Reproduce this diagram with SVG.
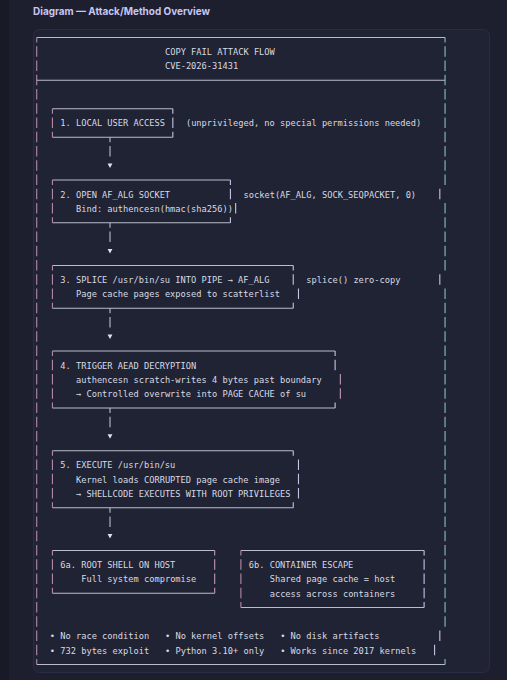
<svg xmlns="http://www.w3.org/2000/svg" width="507" height="680" viewBox="0 0 507 680">
<style>
.t{font-family:"DejaVu Sans Mono","Liberation Mono",monospace;font-size:8.7px;fill:#d8dae2}
.h{stroke:#b9bdca;stroke-width:1;fill:none}
.ol{stroke:#b48aab;stroke-width:1.1;fill:none}
.or{stroke:#86c0c0;stroke-width:1.1;fill:none}
.vl{stroke:#b48aab;stroke-width:1.1;fill:none}
.vr{stroke:#c7c3e6;stroke-width:1.1;fill:none}
.vp{stroke:#c496b8;stroke-width:1.1;fill:none}
.d{stroke-dasharray:10.5 3.75}
.s{stroke-dashoffset:5.5}
.c{stroke:#b9bdca;stroke-width:1.1;fill:none}
.a{fill:#e0e2ea}
</style>
<defs>
<polygon id="tri" points="-2.4,-2.2 2.4,-2.2 0,2.2"/>
</defs>
<rect width="507" height="680" fill="#1d1f2e"/>
<rect width="9" height="680" fill="#181a25"/>
<rect x="33.5" y="29.5" width="456" height="643" rx="6" fill="#202334" stroke="#2a2d43"/>
<text x="33" y="15" font-family="Inter,Roboto,sans-serif" font-weight="bold" font-size="10.5" fill="#c8c6f2" textLength="177" lengthAdjust="spacingAndGlyphs">Diagram — Attack/Method Overview</text>

<g id="frame">
<path class="h" d="M36.72,37.5H445.05M36.72,80.25H445.05M36.72,664.5H445.05"/>
<line class="ol d s" x1="36.72" y1="37.5" x2="36.72" y2="664.5"/>
<line class="or d s" x1="445.05" y1="37.5" x2="445.05" y2="185"/>
<line class="or d" x1="445.05" y1="203" x2="445.05" y2="270.5"/>
<line class="or d" x1="445.05" y1="288.5" x2="445.05" y2="626.75"/>
<path class="or" d="M445.05,659V664.5"/>
<path class="vr" d="M439.82,188.75V199.25M439.82,274.25V284.75M439.82,630.5V641M434.58,644.75V655.25"/>
</g>

<g id="header">
<text class="t" x="164.98" y="55.05">COPY FAIL ATTACK FLOW</text>
<text class="t" x="164.98" y="69.3">CVE-2026-31431</text>
</g>

<g id="connectors">
<path class="c" d="M110.01,137.25V142.25M110.01,146V156.5"/>
<use href="#tri" class="a" x="110.01" y="165.75"/>
<path class="c" d="M110.01,222.75V227.75M110.01,231.5V242"/>
<use href="#tri" class="a" x="110.01" y="251.25"/>
<path class="c" d="M110.01,308.25V313.25M110.01,317V327.5"/>
<use href="#tri" class="a" x="110.01" y="336.75"/>
<path class="c" d="M110.01,408V413M110.01,416.75V427.25"/>
<use href="#tri" class="a" x="110.01" y="436.5"/>
<path class="c" d="M110.01,507.75V512.75M110.01,516.5V527"/>
<use href="#tri" class="a" x="110.01" y="536.25"/>
</g>

<g id="node-1">
<path class="h" d="M52.43,108.75H172.83M52.43,137.25H172.83"/>
<line class="vl d s" x1="52.43" y1="108.75" x2="52.43" y2="137.25"/>
<line class="vr d s" x1="172.83" y1="108.75" x2="172.83" y2="137.25"/>
<text class="t" x="60.28" y="126.3">1. LOCAL USER ACCESS</text>
<text class="t" x="185.92" y="126.3">(unprivileged, no special permissions needed)</text>
</g>

<g id="node-2">
<path class="h" d="M52.43,180H230.42M52.43,222.75H230.42"/>
<line class="vl d s" x1="52.43" y1="180" x2="52.43" y2="222.75"/>
<path class="vr" d="M230.42,180V185M230.42,188.75V199.25M235.65,203V213.5M230.42,217.25V222.75"/>
<text class="t" x="60.28" y="197.55">2. OPEN AF_ALG SOCKET</text>
<text class="t" x="75.98" y="211.8">Bind: authencesn(hmac(sha256))</text>
<text class="t" x="243.5" y="197.55">socket(AF_ALG, SOCK_SEQPACKET, 0)</text>
</g>

<g id="node-3">
<path class="h" d="M52.43,265.5H293.24M52.43,308.25H293.24"/>
<line class="vl d s" x1="52.43" y1="265.5" x2="52.43" y2="308.25"/>
<path class="vr" d="M293.24,265.5V270.5M293.24,274.25V284.75M298.47,288.5V299M293.24,302.75V308.25"/>
<text class="t" x="60.28" y="283.05">3. SPLICE /usr/bin/su INTO PIPE → AF_ALG</text>
<text class="t" x="75.98" y="297.3">Page cache pages exposed to scatterlist</text>
<text class="t" x="306.32" y="283.05">splice() zero-copy</text>
</g>

<g id="node-4">
<path class="h" d="M52.43,351H335.12M52.43,408H335.12"/>
<line class="vl d s" x1="52.43" y1="351" x2="52.43" y2="408"/>
<path class="vr" d="M335.12,351V356M335.12,359.75V370.25M335.12,402.5V408"/>
<path class="vp" d="M340.35,374V384.5M340.35,388.25V398.75"/>
<text class="t" x="60.28" y="368.55">4. TRIGGER AEAD DECRYPTION</text>
<text class="t" x="75.98" y="382.8">authencesn scratch-writes 4 bytes past boundary</text>
<text class="t" x="75.98" y="397.05">→ Controlled overwrite into PAGE CACHE of su</text>
</g>

<g id="node-5">
<path class="h" d="M52.43,450.75H293.24M52.43,507.75H293.24"/>
<line class="vl d s" x1="52.43" y1="450.75" x2="52.43" y2="507.75"/>
<path class="vr" d="M293.24,450.75V455.75M298.47,459.5V470M298.47,473.75V484.25M298.47,488V498.5M293.24,502.25V507.75"/>
<text class="t" x="60.28" y="468.3">5. EXECUTE /usr/bin/su</text>
<text class="t" x="75.98" y="482.55">Kernel loads CORRUPTED page cache image</text>
<text class="t" x="75.98" y="496.8">→ SHELLCODE EXECUTES WITH ROOT PRIVILEGES</text>
</g>

<g id="node-6a">
<path class="h" d="M52.43,550.5H214.71M52.43,593.25H214.71"/>
<line class="vl d s" x1="52.43" y1="550.5" x2="52.43" y2="593.25"/>
<line class="vp d s" x1="214.71" y1="550.5" x2="214.71" y2="593.25"/>
<text class="t" x="60.28" y="568.05">6a. ROOT SHELL ON HOST</text>
<text class="t" x="81.22" y="582.3">Full system compromise</text>
</g>

<g id="node-6b">
<path class="h" d="M240.89,550.5H424.11M240.89,607.5H424.11"/>
<line class="vl d s" x1="240.89" y1="550.5" x2="240.89" y2="607.5"/>
<line class="vr d s" x1="424.11" y1="550.5" x2="424.11" y2="607.5"/>
<text class="t" x="248.74" y="568.05">6b. CONTAINER ESCAPE</text>
<text class="t" x="269.68" y="582.3">Shared page cache = host</text>
<text class="t" x="269.68" y="596.55">access across containers</text>
</g>

<g id="footer">
<text class="t" x="49.81" y="639.3">• No race condition</text>
<text class="t" x="164.98" y="639.3">• No kernel offsets</text>
<text class="t" x="280.15" y="639.3">• No disk artifacts</text>
<text class="t" x="49.81" y="653.55">• 732 bytes exploit</text>
<text class="t" x="164.98" y="653.55">• Python 3.10+ only</text>
<text class="t" x="280.15" y="653.55">• Works since 2017 kernels</text>
</g>
</svg>
